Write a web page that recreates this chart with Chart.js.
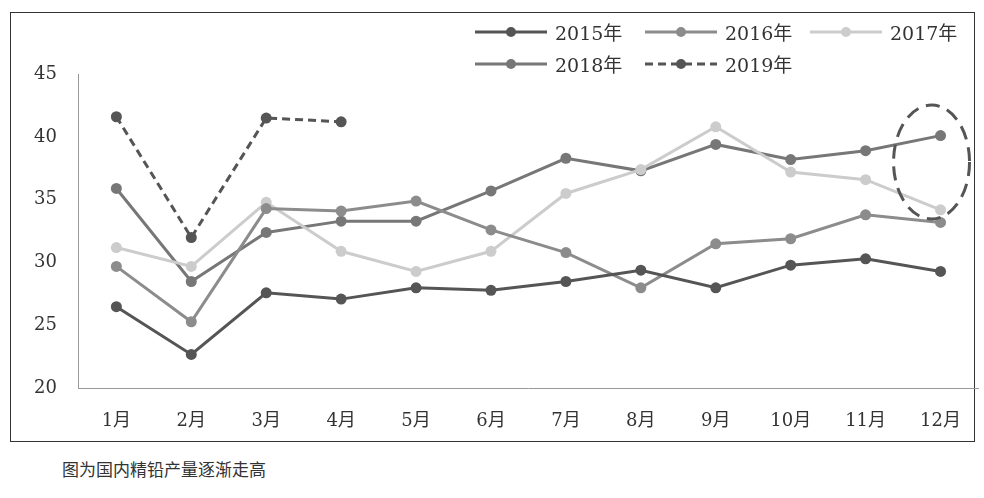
<!DOCTYPE html>
<html><head><meta charset="utf-8">
<script src="https://cdn.jsdelivr.net/npm/chart.js@4"></script>
<style>
body{margin:0;background:#fff;width:984px;height:498px;position:relative;overflow:hidden;font-family:"DejaVu Serif","Noto Sans CJK SC",serif}
#box{position:absolute;left:10px;top:12px;width:965px;height:430px;border:1px solid #333;box-sizing:border-box}
#wrap{position:absolute;left:0;top:0;width:984px;height:450px}
.lg{position:absolute;font-size:19px;color:#333;display:flex;align-items:center}
.lg svg{margin-right:8px}
#cap{position:absolute;left:62px;top:456px;font-size:17px;color:#333;font-family:"Noto Sans CJK SC",serif}
</style></head><body>
<div id="box"></div>
<div id="wrap"><canvas id="c" width="984" height="450"></canvas></div>
<div id="legend"></div>
<div id="cap">图为国内精铅产量逐渐走高</div>
<script>
const months = ['1月','2月','3月','4月','5月','6月','7月','8月','9月','10月','11月','12月'];
const s2015 = [26.5,22.7,27.6,27.1,28.0,27.8,28.5,29.4,28.0,29.8,30.3,29.3];
const s2016 = [29.7,25.3,34.3,34.1,34.9,32.6,30.8,28.0,31.5,31.9,33.8,33.2];
const s2017 = [31.2,29.7,34.8,30.9,29.3,30.9,35.5,37.4,40.8,37.2,36.6,34.2];
const s2018 = [35.9,28.5,32.4,33.3,33.3,35.7,38.3,37.3,39.4,38.2,38.9,40.1];
const s2019 = [41.6,32.0,41.5,41.2];

const series = [
  {label:'2015年', data:s2015, color:'#555555', dash:[]},
  {label:'2016年', data:s2016, color:'#8c8c8c', dash:[]},
  {label:'2017年', data:s2017, color:'#cccccc', dash:[]},
  {label:'2018年', data:s2018, color:'#777777', dash:[]},
  {label:'2019年', data:s2019, color:'#555555', dash:[8,5]}
];

// HTML legend
const legPos = [[475,18],[645,18],[810,18],[475,50],[645,50]];
const leg = document.getElementById('legend');
series.forEach((s,i)=>{
  const d = document.createElement('div');
  d.className='lg'; d.style.left=legPos[i][0]+'px'; d.style.top=legPos[i][1]+'px';
  d.innerHTML = `<svg width="72" height="14"><line x1="0" y1="7" x2="72" y2="7" stroke="${s.color}" stroke-width="3" ${s.dash.length?'stroke-dasharray="8,5"':''}/><circle cx="36" cy="7" r="5" fill="${s.color}"/></svg>${s.label}`;
  leg.appendChild(d);
});

const ellipse = {
  id:'ellipse',
  afterDatasetsDraw(chart){
    const {ctx, scales:{x,y}} = chart;
    const cx = x.getPixelForValue(11) - 9, cy = y.getPixelForValue(38);
    ctx.save();
    ctx.strokeStyle='#555'; ctx.lineWidth=3; ctx.setLineDash([14,8]);
    ctx.beginPath(); ctx.ellipse(cx, cy, 38, 57, 0, 0, Math.PI*2); ctx.stroke();
    ctx.restore();
  }
};

new Chart(document.getElementById('c'), {
  type:'line',
  data:{labels:months, datasets:series.map(s=>({
    label:s.label, data:s.data, borderColor:s.color, backgroundColor:s.color,
    borderWidth:3, borderDash:s.dash, pointRadius:5.5, pointBackgroundColor:s.color,
    pointBorderWidth:0, tension:0
  }))},
  options:{
    responsive:false, animation:false,
    layout:{padding:{top:74,right:6,left:20,bottom:4}},
    plugins:{legend:{display:false}, tooltip:{enabled:false}},
    scales:{
      x:{offset:true, grid:{display:false}, border:{color:'#999',width:1},
         ticks:{color:'#333', font:{size:18, family:'"DejaVu Serif","Noto Sans CJK SC"'}, padding:14}},
      y:{min:20, max:45, grid:{display:false, drawTicks:true}, border:{color:'#999',width:1},
         ticks:{stepSize:5, color:'#333', font:{size:18, family:'"DejaVu Serif"'}, padding:14}}
    }
  },
  plugins:[ellipse]
});
</script>
</body></html>
